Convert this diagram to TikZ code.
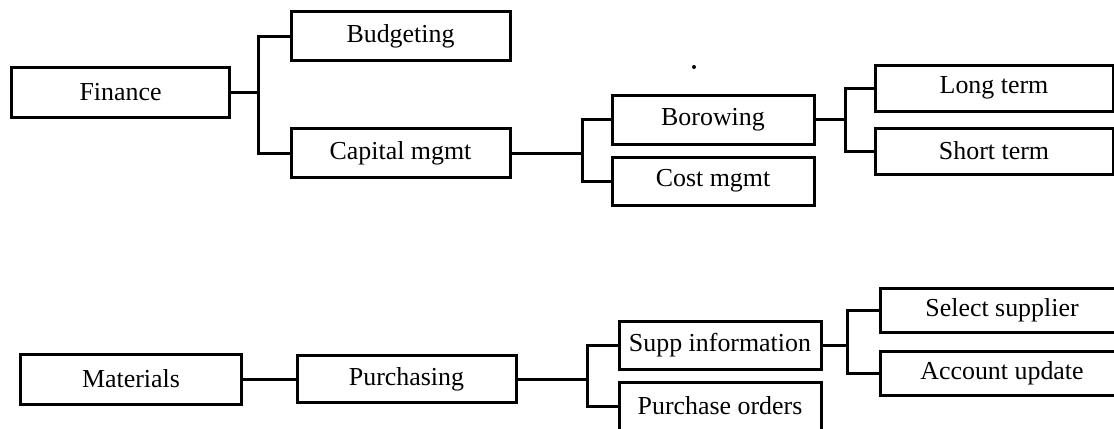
\documentclass[tikz,border=0pt]{standalone}
\usepackage{fontspec}
\setmainfont{Liberation Serif}
\begin{document}
\begin{tikzpicture}[x=1bp,y=-1bp,
  box/.style={draw, line width=3bp, rectangle, inner sep=0pt, minimum height=#1, font=\fontsize{26}{30}\selectfont},
  box/.default=49bp,
  conn/.style={line width=3bp}]
\clip (0,0) rectangle (1114,428);
\fill[white] (0,0) rectangle (1114,428);
% top tree
\node[box, minimum width=217bp, minimum height=50bp] (fin) at (120.5,92) {Finance};
\node[box, minimum width=219bp] (bud) at (400.5,36) {Budgeting};
\node[box, minimum width=219bp] (cap) at (400.5,153) {Capital mgmt};
\node[box, minimum width=202bp] (bor) at (713,119.5) {Borowing};
\node[box, minimum width=202bp, minimum height=48bp] (cost) at (713,181) {Cost mgmt};
\node[box, minimum width=238bp, minimum height=46bp] (long) at (994,88) {Long term};
\node[box, minimum width=238bp, minimum height=46bp] (short) at (994,151) {Short term};
% bottom tree
\node[box, minimum width=220bp, minimum height=50bp] (mat) at (131,379) {Materials};
\node[box, minimum width=219bp, minimum height=47bp] (pur) at (406.5,379) {Purchasing};
\node[box, minimum width=202bp, minimum height=48bp] (supp) at (720,345) {Supp information};
\node[box, minimum width=202bp, minimum height=48bp] (po) at (720,406) {Purchase orders};
\node[box, minimum width=244bp, minimum height=44bp] (sel) at (1002,310) {Select supplier};
\node[box, minimum width=244bp, minimum height=44bp] (acc) at (1002,373) {Account update};
% connectors
\draw[conn] (bud.west) -- ++(-31,0) |- (fin.east);
\draw[conn] (cap.west) -- ++(-31,0) |- (fin.east);
\draw[conn] (bor.west) -- ++(-28,0) |- (cap.east);
\draw[conn] (cost.west) -- ++(-28,0) |- (cap.east);
\draw[conn] (long.west) -- ++(-28,0) |- (bor.east);
\draw[conn] (short.west) -- ++(-28,0) |- (bor.east);
\draw[conn] (mat.east) -- (pur.west);
\draw[conn] (supp.west) -- ++(-30,0) |- (pur.east);
\draw[conn] (po.west) -- ++(-30,0) |- (pur.east);
\draw[conn] (sel.west) -- ++(-31,0) |- (supp.east);
\draw[conn] (acc.west) -- ++(-31,0) |- (supp.east);
% stray dot
\fill (694,67) circle (2bp);
\end{tikzpicture}
\end{document}
